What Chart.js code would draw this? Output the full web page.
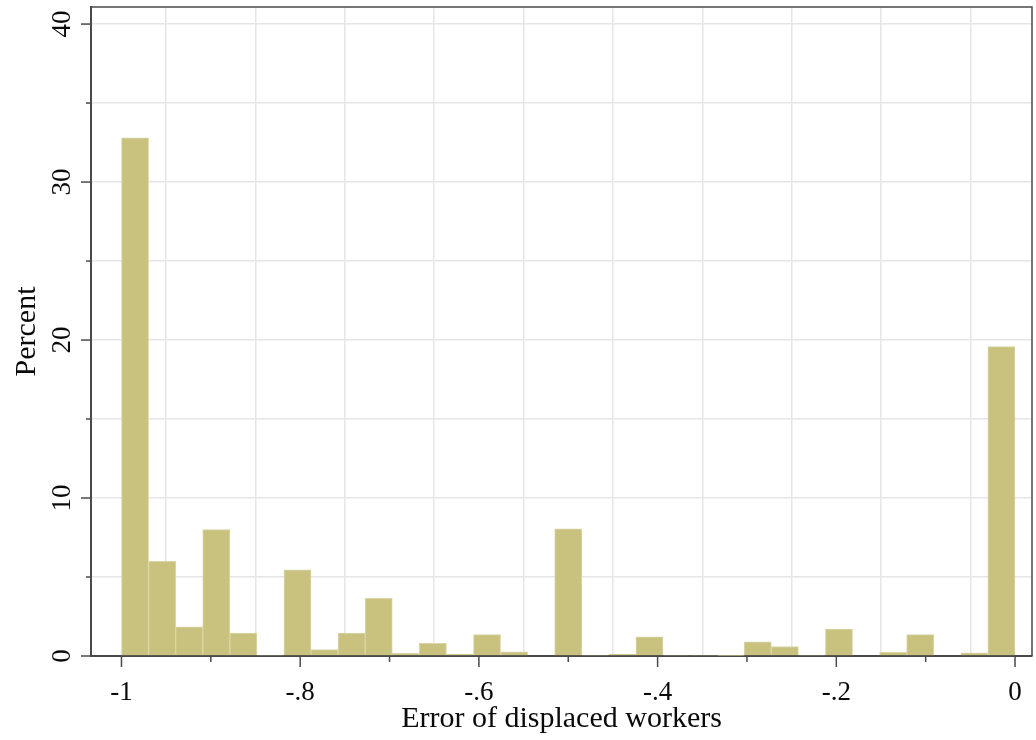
<!DOCTYPE html>
<html>
<head>
<meta charset="utf-8">
<title>Error of displaced workers</title>
<script src="https://cdn.jsdelivr.net/npm/chart.js@4.4.1/dist/chart.umd.min.js"></script>
<style>
  html, body { margin: 0; padding: 0; background: #ffffff; }
  #wrap { width: 1036px; height: 740px; position: relative; }
</style>
</head>
<body>
<div id="wrap"><canvas id="hist" width="1036" height="740"></canvas></div>
<script>
// Histogram bins: centres of 33 equal-width bins spanning -1 to 0
const binCenters = [
  -0.9848, -0.9545, -0.9242, -0.8939, -0.8636, -0.8333, -0.8030, -0.7727,
  -0.7424, -0.7121, -0.6818, -0.6515, -0.6212, -0.5909, -0.5606, -0.5303,
  -0.5000, -0.4697, -0.4394, -0.4091, -0.3788, -0.3485, -0.3182, -0.2879,
  -0.2576, -0.2273, -0.1970, -0.1667, -0.1364, -0.1061, -0.0758, -0.0455,
  -0.0152
];

// Percent of workers in each bin
const percentValues = [
  32.8, 6.0, 1.85, 8.0, 1.45, 0.05, 5.45, 0.4,
  1.45, 3.65, 0.17, 0.8, 0.1, 1.35, 0.27, 0,
  8.05, 0.05, 0.1, 1.22, 0.05, 0.05, 0.03, 0.9,
  0.6, 0.05, 1.71, 0, 0.23, 1.35, 0, 0.2,
  19.58
];

// Axis ticks (grid positions) and labelled ticks
const xTickValues = [-1, -0.9, -0.8, -0.7, -0.6, -0.5, -0.4, -0.3, -0.2, -0.1, 0];
const xLabelValues = [-1, -0.8, -0.6, -0.4, -0.2, 0];
const xLabelTexts = ['-1', '-.8', '-.6', '-.4', '-.2', '0'];
const yTickValues = [0, 5, 10, 15, 20, 25, 30, 35, 40];
const yLabelValues = [0, 10, 20, 30, 40];
const yLabelTexts = ['0', '10', '20', '30', '40'];

const SERIF = '"Liberation Serif", "DejaVu Serif", serif';
const AXIS_DARK = '#4a4a4a';
const TEXT = '#0a0a0a';

function findLabel(values, texts, v) {
  for (let i = 0; i < values.length; i++) {
    if (Math.abs(values[i] - v) < 1e-9) return texts[i];
  }
  return null;
}

// Frame, tick marks of two lengths, and rotated y tick labels
const stataAxes = {
  id: 'stataAxes',
  afterDraw(chart) {
    const ctx = chart.ctx;
    const area = chart.chartArea;
    const xs = chart.scales.x;
    const ys = chart.scales.y;
    ctx.save();

    // top and right edges of the plot frame
    ctx.strokeStyle = AXIS_DARK;
    ctx.lineWidth = 1.5;
    ctx.beginPath();
    ctx.moveTo(area.left, area.top);
    ctx.lineTo(area.right, area.top);
    ctx.lineTo(area.right, area.bottom);
    ctx.stroke();

    // x tick marks
    xTickValues.forEach(v => {
      const px = xs.getPixelForValue(v);
      const major = findLabel(xLabelValues, xLabelTexts, v) !== null;
      ctx.beginPath();
      ctx.moveTo(px, area.bottom);
      ctx.lineTo(px, area.bottom + (major ? 11 : 6));
      ctx.stroke();
    });

    // y tick marks
    yTickValues.forEach(v => {
      const py = ys.getPixelForValue(v);
      const major = findLabel(yLabelValues, yLabelTexts, v) !== null;
      ctx.beginPath();
      ctx.moveTo(area.left, py);
      ctx.lineTo(area.left - (major ? 10 : 5), py);
      ctx.stroke();
    });

    // y tick labels, rotated to read bottom-to-top
    ctx.fillStyle = TEXT;
    ctx.font = '27px ' + SERIF;
    ctx.textAlign = 'center';
    ctx.textBaseline = 'alphabetic';
    yLabelValues.forEach((v, i) => {
      const py = ys.getPixelForValue(v);
      ctx.save();
      ctx.translate(area.left - 21, py);
      ctx.rotate(-Math.PI / 2);
      ctx.fillText(yLabelTexts[i], 0, 0);
      ctx.restore();
    });

    ctx.restore();
  }
};

const ctx = document.getElementById('hist').getContext('2d');
new Chart(ctx, {
  type: 'bar',
  data: {
    datasets: [{
      label: 'Percent',
      data: binCenters.map((c, i) => ({ x: c, y: percentValues[i] })),
      backgroundColor: '#c8c27e',
      borderColor: '#d9d5a6',
      borderWidth: 1,
      borderSkipped: 'bottom',
      barPercentage: 1.0,
      categoryPercentage: 1.0
    }]
  },
  options: {
    responsive: false,
    animation: false,
    devicePixelRatio: 1,
    layout: { padding: { left: 0, right: 4, top: 7, bottom: 0 } },
    plugins: {
      legend: { display: false },
      tooltip: { enabled: false },
      title: { display: false }
    },
    scales: {
      x: {
        type: 'linear',
        offset: false,
        min: -1.0341,
        max: 0.019,
        afterBuildTicks(scale) {
          scale.ticks = xTickValues.map(v => ({ value: v }));
        },
        afterFit(scale) {
          scale.height = 84;
          scale.paddingLeft = 0;
          scale.paddingRight = 0;
        },
        grid: {
          color: '#e6e6e6',
          lineWidth: 1.5,
          drawTicks: false
        },
        border: { display: true, color: AXIS_DARK, width: 2 },
        ticks: {
          autoSkip: false,
          maxRotation: 0,
          minRotation: 0,
          padding: 23,
          color: TEXT,
          font: { family: SERIF, size: 27, lineHeight: 1 },
          callback(value) {
            const t = findLabel(xLabelValues, xLabelTexts, value);
            return t === null ? '' : t;
          }
        },
        title: {
          display: true,
          text: 'Error of displaced workers',
          color: TEXT,
          font: { family: SERIF, size: 30, lineHeight: 1 },
          padding: { top: 0, bottom: 6 }
        }
      },
      y: {
        type: 'linear',
        min: 0,
        max: 41.08,
        afterBuildTicks(scale) {
          scale.ticks = yTickValues.map(v => ({ value: v }));
        },
        afterFit(scale) {
          scale.width = 91;
          scale.paddingTop = 0;
          scale.paddingBottom = 0;
        },
        grid: {
          color: '#e6e6e6',
          lineWidth: 1.5,
          drawTicks: false
        },
        border: { display: true, color: AXIS_DARK, width: 2 },
        ticks: { display: false },
        title: {
          display: true,
          text: 'Percent',
          color: TEXT,
          font: { family: SERIF, size: 30, lineHeight: 1 },
          padding: { top: 12, bottom: 0 }
        }
      }
    }
  },
  plugins: [stataAxes]
});
</script>
</body>
</html>
